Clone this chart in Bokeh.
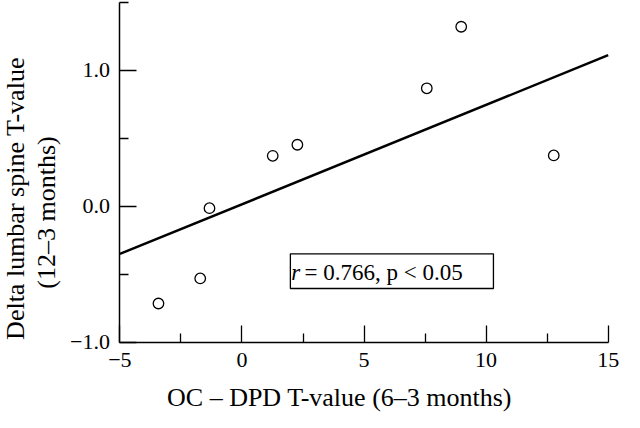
import math
from bokeh.plotting import figure
from bokeh.models import Range1d, FixedTicker, BoxAnnotation, Label
from bokeh.embed import file_html
from bokeh.resources import INLINE

# Data
oc_dpd = [-3.42, -1.71, -1.33, 1.26, 2.27, 7.57, 8.98, 12.77]
delta_lumbar = [-0.714, -0.53, -0.014, 0.371, 0.452, 0.867, 1.319, 0.374]

# Regression line end points as drawn
fit_x = [-5, 15]
fit_y = [-0.35, 1.11]

x_ticks = [-5, 0, 5, 10, 15]
x_minor = [-2.5, 2.5, 7.5, 12.5]
x_tick_labels = ["\u22125", "0", "5", "10", "15"]
y_ticks = [-1, 0, 1]
y_minor = [-0.5, 0.5, 1.5]
y_tick_labels = ["\u22121.0", "0.0", "1.0"]

x_title = "OC \u2013 DPD T-value (6\u20133 months)"
y_title_1 = "Delta lumbar spine T-value"
y_title_2 = "(12\u20133 months)"

stat_r = "r"
stat_rest = "= 0.766, p < 0.05"

FONT = "Liberation Serif"
W, H = 624, 412

# The frame fills the whole figure; axes sit at fixed data locations
p = figure(width=W, height=H, output_backend="svg", toolbar_location=None,
           x_range=Range1d(-9.890, 15.668), y_range=Range1d(-1.515, 1.512),
           min_border_left=0, min_border_right=0, min_border_top=0,
           min_border_bottom=0)
p.outline_line_color = None
p.grid.visible = False
p.background_fill_color = "white"
p.border_fill_color = "white"

xa, ya = p.xaxis[0], p.yaxis[0]
xa.fixed_location = y_ticks[0]
ya.fixed_location = x_ticks[0]
xa.bounds = (x_ticks[0], x_ticks[-1])
ya.bounds = (y_ticks[0], y_minor[-1])

for ax, ticks, minor, labels in ((xa, x_ticks, x_minor, x_tick_labels),
                                 (ya, y_ticks, y_minor, y_tick_labels)):
    ax.ticker = FixedTicker(ticks=ticks, minor_ticks=minor)
    ax.major_label_overrides = {t: l for t, l in zip(ticks, labels)}
    ax.axis_line_color = "black"
    ax.axis_line_width = 1.5
    ax.major_tick_in = 17
    ax.major_tick_out = 0
    ax.minor_tick_in = 9
    ax.minor_tick_out = 0
    ax.major_tick_line_color = "black"
    ax.minor_tick_line_color = "black"
    ax.major_tick_line_width = 1.3
    ax.minor_tick_line_width = 1.3
    ax.major_label_text_font = FONT
    ax.major_label_text_font_size = "22px"
    ax.major_label_text_color = "black"

xa.major_label_standoff = 11
ya.major_label_standoff = 10

p.line(fit_x, fit_y, line_color="black", line_width=2.5)
p.scatter(oc_dpd, delta_lumbar, marker="circle", size=10.5, fill_color="white",
          line_color="black", line_width=1.3)

box = BoxAnnotation(left=1.983, right=10.30, bottom=-0.604, top=-0.349,
                    fill_color="white", fill_alpha=1.0, line_color="black",
                    line_alpha=1.0, line_width=1.3)
p.add_layout(box)
p.add_layout(Label(x=2.02, y=-0.483, text=stat_r, text_font=FONT,
                   text_font_size="23px", text_font_style="italic",
                   text_baseline="middle", text_color="black"))
p.add_layout(Label(x=2.56, y=-0.483, text=stat_rest, text_font=FONT,
                   text_font_size="23px", text_baseline="middle",
                   text_color="black"))

p.add_layout(Label(x=339, y=15, x_units="screen", y_units="screen",
                   text=x_title, text_font=FONT, text_font_size="26px",
                   text_align="center", text_baseline="middle",
                   text_color="black"))
p.add_layout(Label(x=15, y=214, x_units="screen", y_units="screen",
                   angle=math.pi / 2, text=y_title_1, text_font=FONT,
                   text_font_size="26px", text_align="center",
                   text_baseline="middle", text_color="black"))
p.add_layout(Label(x=46, y=200, x_units="screen", y_units="screen",
                   angle=math.pi / 2, text=y_title_2, text_font=FONT,
                   text_font_size="26px", text_align="center",
                   text_baseline="middle", text_color="black"))

open("out.html", "w").write(file_html(p, INLINE))
